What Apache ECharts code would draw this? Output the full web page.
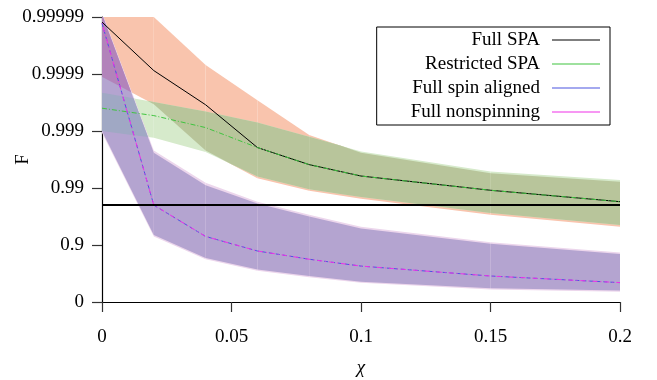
<!DOCTYPE html>
<html>
<head>
<meta charset="utf-8">
<script src="https://cdn.jsdelivr.net/npm/echarts@6/dist/echarts.min.js"></script>
<style>
  html, body { margin: 0; padding: 0; background: #fff; }
  #chart { width: 657px; height: 380px; }
</style>
</head>
<body>
<div id="chart"></div>
<script>
// Spin magnitude chi at which each configuration was evaluated
const chi = [0, 0.02, 0.04, 0.06, 0.08, 0.1, 0.15, 0.2];

// Match values are stored as "nines" of F, i.e. -log10(1 - F)
const spaMean   = [4.91, 4.06, 3.46, 2.71, 2.41, 2.21, 1.96, 1.76];
const spaUpper  = [5.30, 5.00, 4.16, 3.54, 2.93, 2.62, 2.26, 2.11];
const spaLower  = [3.95, 3.47, 2.66, 2.17, 1.95, 1.81, 1.53, 1.32];

const restrictedMean  = [3.40, 3.27, 3.06, 2.71, 2.41, 2.21, 1.96, 1.76];
const restrictedUpper = [3.67, 3.51, 3.34, 3.15, 2.90, 2.64, 2.29, 2.14];
const restrictedLower = [3.00, 2.88, 2.63, 2.20, 1.98, 1.84, 1.56, 1.35];

const alignedMean  = [4.89, 1.70, 1.15, 0.895, 0.75, 0.63, 0.456, 0.34];
const alignedUpper = [5.05, 2.62, 2.05, 1.73, 1.50, 1.29, 1.02, 0.84];
const alignedLower = [3.00, 1.175, 0.77, 0.57, 0.456, 0.357, 0.24, 0.20];

const nonspinMean  = [4.89, 1.70, 1.15, 0.895, 0.75, 0.63, 0.456, 0.34];
const nonspinUpper = [5.08, 2.66, 2.09, 1.76, 1.53, 1.32, 1.05, 0.87];
const nonspinLower = [2.97, 1.15, 0.75, 0.55, 0.436, 0.337, 0.22, 0.18];

// Tick labels of the nines axis (0, 1, 2, ... nines)
const fTickLabels = ['0', '0.9', '0.99', '0.999', '0.9999', '0.99999'];

// Reference match level drawn as a horizontal rule
const thresholdF = 0.98;

const seriesNames = ['Full SPA', 'Restricted SPA', 'Full spin aligned', 'Full nonspinning'];

const FONT = "'Liberation Serif', 'Times New Roman', serif";
const Y_MIN = 0, Y_MAX = 5;

const nines = f => -Math.log10(1 - f);

const bandSPA = { lower: spaLower, upper: spaUpper };
const bandRestricted = { lower: restrictedLower, upper: restrictedUpper };
const bandAligned = { lower: alignedLower, upper: alignedUpper };
const bandNonspin = { lower: nonspinLower, upper: nonspinUpper };

// Polygon of the common part of several bands over one chi segment.
// Every curve is linear inside the segment, so the min/max envelopes only
// bend where two curves cross; those crossings are the polygon's breakpoints.
function segmentPolygon(bands, i, api) {
  const x0 = chi[i], x1 = chi[i + 1];
  const lows = [[Y_MIN, Y_MIN]], highs = [[Y_MAX, Y_MAX]];
  bands.forEach(b => {
    lows.push([b.lower[i], b.lower[i + 1]]);
    highs.push([b.upper[i], b.upper[i + 1]]);
  });
  const curves = lows.concat(highs);
  const ts = [0, 1];
  for (let a = 0; a < curves.length; a++) {
    for (let b = a + 1; b < curves.length; b++) {
      const d0 = curves[a][0] - curves[b][0];
      const d1 = curves[a][1] - curves[b][1];
      if (d0 * d1 < 0) ts.push(d0 / (d0 - d1));
    }
  }
  ts.sort((p, q) => p - q);
  const at = (c, t) => c[0] + (c[1] - c[0]) * t;
  const top = [], bottom = [];
  ts.forEach(t => {
    const hi = Math.min(...highs.map(c => at(c, t)));
    let lo = Math.max(...lows.map(c => at(c, t)));
    if (lo > hi) lo = hi;
    const x = x0 + (x1 - x0) * t;
    top.push(api.coord([x, hi]));
    bottom.push(api.coord([x, lo]));
  });
  return top.concat(bottom.reverse());
}

function regionSeries(bands, color) {
  const segs = [];
  for (let i = 0; i < chi.length - 1; i++) segs.push([i]);
  return {
    type: 'custom',
    silent: true,
    clip: true,
    data: segs,
    renderItem: (params, api) => ({
      type: 'polygon',
      shape: { points: segmentPolygon(bands, api.value(0), api) },
      style: { fill: color }
    })
  };
}

function lineSeries(name, values, color, dash, width) {
  return {
    name,
    type: 'line',
    data: chi.map((x, k) => [x, values[k]]),
    symbol: 'none',
    silent: true,
    clip: true,
    itemStyle: { color },
    lineStyle: { color, width: width || 1, type: dash }
  };
}

const series = [
  regionSeries([bandSPA], '#f9c4ad'),
  regionSeries([bandRestricted], '#d6eacb'),
  regionSeries([bandSPA, bandRestricted], '#b8c59b'),
  regionSeries([bandNonspin], '#ecd6ec'),
  regionSeries([bandAligned, bandNonspin], '#b4a4d0'),
  regionSeries([bandAligned, bandNonspin, bandSPA], '#b283ba'),
  regionSeries([bandAligned, bandNonspin, bandRestricted], '#a0a8c4'),
  regionSeries([bandAligned, bandNonspin, bandSPA, bandRestricted], '#9a94b2'),
  Object.assign(lineSeries(seriesNames[0], spaMean, '#000000', 'solid', 1), {
    markLine: {
      silent: true,
      symbol: 'none',
      label: { show: false },
      lineStyle: { color: '#000', width: 2, type: 'solid' },
      data: [{ yAxis: nines(thresholdF) }]
    }
  }),
  lineSeries(seriesNames[1], restrictedMean, '#3fc43f', [5, 2, 1, 2], 1),
  lineSeries(seriesNames[2], alignedMean, '#4a55e0', [4, 3], 1),
  lineSeries(seriesNames[3], nonspinMean, '#f030e8', [1, 3, 5, 3], 1)
];

const chart = echarts.init(document.getElementById('chart'), null, { renderer: 'canvas' });
chart.setOption({
  animation: false,
  backgroundColor: '#fff',
  grid: { left: 102, right: 37, top: 17, bottom: 78, containLabel: false, outerBoundsMode: 'none' },
  legend: {
    data: seriesNames,
    orient: 'vertical',
    align: 'right',
    right: 47,
    top: 27,
    icon: 'path://M0,0H48V1H0Z',
    itemWidth: 48,
    itemHeight: 1.3,
    itemGap: 4,
    padding: [3, 10, 3, 34],
    borderColor: '#000',
    borderWidth: 1,
    backgroundColor: '#fff',
    selectedMode: false,
    textStyle: { fontFamily: FONT, fontSize: 19, color: '#000', lineHeight: 20, padding: [0, 7, 0, 0] }
  },
  xAxis: {
    type: 'value',
    min: 0,
    max: 0.2,
    interval: 0.05,
    name: 'χ',
    nameLocation: 'middle',
    nameGap: 56,
    nameTextStyle: { fontFamily: FONT, fontSize: 19, fontStyle: 'italic', color: '#000' },
    axisLine: { lineStyle: { color: '#000', width: 1.2 } },
    axisTick: { length: 10, lineStyle: { color: '#333', width: 1.2 } },
    axisLabel: { margin: 26, fontFamily: FONT, fontSize: 19, color: '#000' },
    splitLine: { show: false }
  },
  yAxis: {
    type: 'value',
    min: Y_MIN,
    max: Y_MAX,
    interval: 1,
    name: 'F',
    nameLocation: 'middle',
    nameGap: 69,
    nameRotate: 90,
    nameMoveOverlap: false,
    nameTextStyle: { fontFamily: FONT, fontSize: 19, color: '#000' },
    axisLine: { show: true, lineStyle: { color: '#000', width: 1.2 } },
    axisTick: { show: true, length: 10, lineStyle: { color: '#333', width: 1.2 } },
    axisLabel: { margin: 18, fontFamily: FONT, fontSize: 19, color: '#000',
                 formatter: v => fTickLabels[Math.round(v)] },
    splitLine: { show: false }
  },
  series
});
</script>
</body>
</html>
